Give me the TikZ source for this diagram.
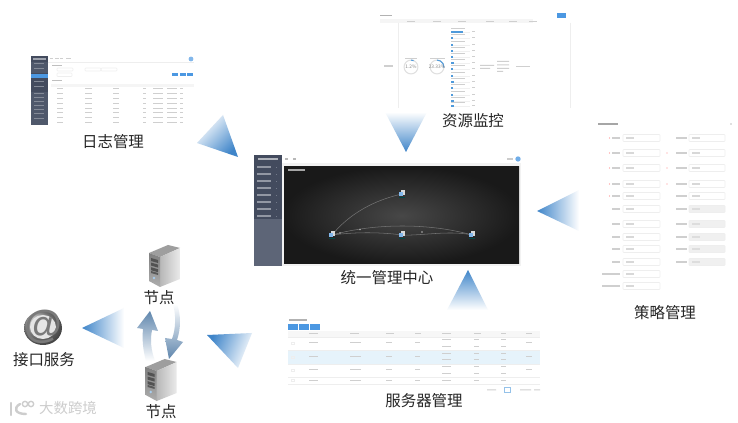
\documentclass[tikz,border=0pt]{standalone}
\usepackage{fontspec}
\setmainfont{Noto Sans CJK SC}
\newfontfamily\latinfont{Liberation Sans}
\usetikzlibrary{positioning,calc}
\definecolor{wedgeblue}{HTML}{3F85C9}
\definecolor{loopblue}{HTML}{5F86AD}
\definecolor{sidegray}{HTML}{4F586B}
\definecolor{sidedark}{HTML}{434B5E}
\definecolor{btnblue}{HTML}{4C98E2}
\definecolor{barblue}{HTML}{4F9ADB}
\definecolor{rowblue}{HTML}{E6F3FB}
\definecolor{textgray}{HTML}{CFCFCF}
\definecolor{linegray}{HTML}{EEEEEE}
\definecolor{markgray}{HTML}{CDCDCD}

\begin{document}
\begin{tikzpicture}[x=0.75pt,y=-0.75pt,
  lab/.style={font=\fontsize{11.6}{14}\selectfont,text=black!85,inner sep=0pt},
  wedge/.style={top color=wedgeblue,bottom color=white,draw=none},
  slantwedge/.style={top color=wedgeblue,middle color=wedgeblue!35,bottom color=white,draw=none},
  field/.style={draw=linegray,line width=0.4pt,rounded corners=0.6pt},
  tiny/.style={font=\fontsize{3.6}{4}\selectfont,text=black!45,inner sep=0pt}]

\useasboundingbox[fill=white] (0,0) rectangle (738,423);

% ---- big wedges ----
\shade[slantwedge,shading angle=-135] (238,157) -- (223,115) -- (197,143) -- cycle;
\shade[wedge,shading angle=180] (406,152) -- (385,112) -- (427,112) -- cycle;
\shade[wedge,shading angle=90] (537,211) -- (579,190) -- (579,231) -- cycle;
\shade[wedge] (468,270) -- (447,310) -- (488,310) -- cycle;
\shade[slantwedge,shading angle=68] (207,335) -- (252,333) -- (238,368) -- cycle;
\shade[wedge,shading angle=90] (82,328) -- (124,308) -- (124,348) -- cycle;

% ---- centre screen ----
\fill[black!5] (282,163) rectangle (521,266);
\fill[sidegray!92!white] (254,155) rectangle (282,266);
\fill[sidedark] (254,155) rectangle (282,219);
\fill[white!55!sidegray] (258,158.5) rectangle (278,160);
\foreach \yy in {167,174,181,188,195,202,209,216}{
  \fill[white!38!sidegray] (257,\yy-0.6) rectangle (271,\yy+0.6);
  \fill[white!20!sidegray] (276,\yy-0.4) rectangle (277,\yy+0.4);
}
\fill[black!28] (285,158) rectangle (288,160);
\fill[black!28] (293,158) rectangle (296,160);
\fill[black!20] (507,158.5) rectangle (513,160);
\fill[btnblue!80] (518,159) circle (2pt);
% dark canvas
\shade[inner color=black!72,outer color=black!90] (284,167) rectangle (519,264);
\fill[white!65!black] (288,169.5) rectangle (305,171);
\node[coordinate] (hostt) at (402,194) {};
\node[coordinate] (hosta) at (332,235) {};
\node[coordinate] (hostb) at (402,235) {};
\node[coordinate] (hostc) at (472,235) {};
\draw[white!45!black,line width=0.4pt] (hosta) .. controls (350,213) and (375,200) .. (hostt);
\draw[white!45!black,line width=0.4pt] (hosta) .. controls (375,223) and (430,223) .. (hostc);
\draw[white!45!black,line width=0.4pt] (hosta) .. controls (355,232) and (380,232) .. (hostb);
\draw[white!45!black,line width=0.4pt] (hostb) .. controls (420,236) and (450,230) .. (hostc);
\fill[white!70!black] (360,229.5) circle (0.7pt) (422,232) circle (0.7pt) (340,233) circle (0.7pt);
\foreach \nn in {hostt,hosta,hostb,hostc}{
  \fill[white!85!black] ($(\nn)+(-1.5,-4)$) rectangle ($(\nn)+(3,1.5)$);
  \fill[btnblue!70!white] ($(\nn)+(-3,-2)$) rectangle ($(\nn)+(0.5,2.5)$);
  \fill[teal!55!black] ($(\nn)+(-3,3.5)$) rectangle ($(\nn)+(3,4.2)$);
}
\node[lab] (centrelab) at (387,278) {统一管理中心};

% ---- log screen ----
\fill[sidegray] (31,56) rectangle (48,125);
\fill[sidedark] (31,56) rectangle (48,62);
\fill[sidedark] (31,73) rectangle (48,92);
\fill[btnblue] (31,74.5) rectangle (48,78.5);
\fill[white!45!sidegray] (33,58.5) rectangle (46,60);
\foreach \yy in {64,69,82,87,94,98,102,106,110,114,119}{
  \fill[white!30!sidegray] (34,\yy-0.5) rectangle (44,\yy+0.5);
}
\foreach \xx/\ww in {50/3,55/4,60/3,66/5}{
  \fill[textgray] (\xx,58) rectangle (\xx+\ww,59.5);
}
\fill[btnblue!70] (191,59) circle (1.8pt);
\fill[linegray] (48,62) rectangle (194,63);
\fill[black!25] (52,65.5) rectangle (62,66.5);
\foreach \xx in {57,85,101}{
  \draw[field] (\xx,68) rectangle (\xx+16,71);
}
\draw[field] (57,73) rectangle (72,76.5);
\foreach \xx in {172,180,187}{
  \fill[btnblue] (\xx,73) rectangle (\xx+6,76.5);
}
\fill[black!25] (52,80.5) rectangle (62,81.5);
\fill[black!4] (51,84) rectangle (194,87);
\foreach \yy in {89,93.8,98.6,103.4,108.2,113,117.8,122.6}{
  \foreach \xx/\ww in {57/6,85/7,113/6,143/3,153/10,167/10,180/3}{
    \fill[textgray] (\xx,\yy-0.5) rectangle (\xx+\ww,\yy+0.5);
  }
}
\node[lab] (loglab) at (113,142) {日志管理};

% ---- monitor screen ----
\fill[black!30] (380,15) rectangle (392,16);
\fill[btnblue] (557,13) rectangle (566,18);
\fill[black!4] (380,19.5) rectangle (533,23);
\draw[linegray,line width=0.3pt] (398,23) -- (398,108) (570,23) -- (570,108);
\foreach \xx in {411,437,462,490,513,533}{
  \fill[textgray] (\xx-4,20.8) rectangle (\xx+4,21.8);
}
\fill[textgray] (384,65.5) rectangle (393,67);
\node[coordinate] (gaugea) at (411,67) {};
\node[coordinate] (gaugeb) at (437,67) {};
\fill[textgray] (405,58) rectangle (417,59);
\fill[textgray] (430,58) rectangle (445,59);
\draw[black!12,line width=0.8pt] (gaugea) circle (5.2pt);
\draw[black!12,line width=0.8pt] (gaugeb) circle (5.2pt);
\draw[barblue,line width=0.8pt] ($(gaugea)+(0,-6.9)$) arc (90:68:5.2pt);
\draw[barblue,line width=0.8pt] ($(gaugeb)+(0,-6.9)$) arc (90:-5:5.2pt);
\node[tiny] at (gaugea) {1.2\%};
\node[tiny] at (gaugeb) {23.33\%};
\foreach \yy/\ww in {32/12,38/2,45/2,51/2,57/2,63/3,69/2,76/2,82/3,88/2,95/2,101/3,106/3}{
  \fill[textgray] (451,\yy-3.5) rectangle (465,\yy-2.8);
  \fill[black!6] (451,\yy-0.4) rectangle (470,\yy+0.4);
  \fill[barblue] (451,\yy-0.6) rectangle (451+\ww,\yy+0.6);
  \fill[textgray] (472,\yy-0.5) rectangle (475,\yy+0.5);
}
\fill[textgray] (480,65) rectangle (494,66) (480,68) rectangle (490,69);
\fill[textgray] (497,61) rectangle (509,62) (497,64.5) rectangle (509,65.5) (497,68) rectangle (509,69) (497,71) rectangle (503,72);
\fill[textgray] (516,66) rectangle (530,67);
\node[lab] (monlab) at (473,121) {资源监控};

% ---- policy form ----
\fill[black!35] (598,123.5) rectangle (618,125);
\fill[black!12] (730,123.5) rectangle (732,125.5);
\foreach \yy/\fa/\fb in {138/1/0,153/1/1,168/1/1,184/1/1,196/1/0,209/0/0,224/0/0,237/0/0,249/0/0,262/0/0}{
  \draw[field] (623,\yy-3.5) rectangle (660,\yy+3.5);
  \fill[textgray] (612,\yy-0.7) rectangle (620,\yy+0.7);
  \fill[textgray] (676,\yy-0.7) rectangle (687,\yy+0.7);
  \fill[textgray!80] (626,\yy-0.7) rectangle (634,\yy+0.7);
  \ifnum\fa=1 \fill[red!45] (609.5,\yy) circle (0.5pt); \fi
  \ifnum\fb=1 \fill[red!45] (667,\yy) circle (0.5pt); \fi
}
\foreach \yy in {138,153,168,184,196}{
  \draw[field] (689,\yy-3.5) rectangle (725,\yy+3.5);
  \fill[textgray!80] (692,\yy-0.7) rectangle (700,\yy+0.7);
}
\foreach \yy in {209,224,237,249,262}{
  \draw[field,fill=black!6] (689,\yy-3.5) rectangle (725,\yy+3.5);
  \fill[textgray!70] (692,\yy-0.7) rectangle (700,\yy+0.7);
}
\foreach \yy in {274,286}{
  \draw[field] (623,\yy-3.5) rectangle (660,\yy+3.5);
  \fill[textgray] (602,\yy-0.7) rectangle (620,\yy+0.7);
  \fill[textgray!80] (626,\yy-0.7) rectangle (634,\yy+0.7);
}
\node[lab] (policylab) at (665,313) {策略管理};

% ---- server table ----
\fill[black!30] (289,319.5) rectangle (307,321);
\foreach \xx in {288,299,310}{
  \fill[btnblue] (\xx,324) rectangle (\xx+10,330);
}
\fill[black!3] (288,331) rectangle (540,337);
\fill[rowblue] (288,350) rectangle (540,364);
\draw[linegray,line width=0.3pt] (288,337) -- (540,337) (288,350) -- (540,350) (288,364) -- (540,364) (288,377) -- (540,377) (288,384) -- (540,384);
\foreach \xx/\ww in {309/9,350/9,386/8,415/6,442/9,474/7,501/5,526/6}{
  \fill[textgray] (\xx,333.5) rectangle (\xx+\ww,334.5);
}
\foreach \yy in {343,357,370,380.5}{
  \foreach \xx/\ww in {309/9,350/11,386/6,415/5}{
    \fill[textgray] (\xx,\yy-0.5) rectangle (\xx+\ww,\yy+0.5);
  }
  \draw[linegray,line width=0.3pt] (291,\yy-1) rectangle (294,\yy+1);
}
\foreach \yy in {343,357,370}{
  \fill[textgray] (526,\yy-0.5) rectangle (532,\yy+0.5);
}
\foreach \yy in {340,346.5,353.5,360,367,373.5,380.5}{
  \foreach \xx/\ww in {442/9,474/5,501/5}{
    \fill[textgray] (\xx,\yy-0.5) rectangle (\xx+\ww,\yy+0.5);
  }
}
\fill[textgray] (487,389.5) rectangle (496,390.5) (520,389.5) rectangle (531,390.5) (534,389.5) rectangle (540,390.5);
\draw[barblue!60,line width=0.3pt] (504,387.5) rectangle (510,392.5);
\node[lab] (serverlab) at (424,401) {服务器管理};

% ---- node towers ----
\foreach \sx/\sy in {0/0,-3.3/114}{
  \begin{scope}[shift={(\sx,\sy)}]
    \fill[black!38] (149,253) -- (168,245) -- (180,248) -- (160,257) -- cycle;
    \shade[left color=black!28,right color=black!8] (160,257) -- (180,248) -- (180,279) -- (160,287) -- cycle;
    \shade[top color=black!50,bottom color=black!32] (149,253) -- (160,257) -- (160,287) -- (149,281) -- cycle;
    \foreach \tt in {0,1,2}{
      \fill[black!68] (151,258+\tt*4.6) -- (158,260+\tt*4.6) -- (158,263+\tt*4.6) -- (151,261+\tt*4.6) -- cycle;
    }
    \fill[black!65] (151,271) -- (158,273) -- (158,275) -- (151,273) -- cycle;
    \fill[white!50!barblue] (154,278) circle (1pt);
  \end{scope}
}
\node[lab] (nodeup) at (159,298) {节点};
\node[lab] (nodedown) at (161,412) {节点};

% ---- loop arrows between the towers ----
\shade[top color=white,middle color=loopblue!35,bottom color=loopblue] (173,304) .. controls (176,315) and (176,328) .. (172,339) -- (165,338) -- (169,359) -- (183,342) -- (177,340) .. controls (181,328) and (181,315) .. (177,304) -- cycle;
\shade[top color=loopblue,middle color=loopblue!35,bottom color=white] (150,311) -- (137,328) -- (143,329) .. controls (142,340) and (143,350) .. (146,361) -- (155,361) .. controls (151,350) and (150,340) .. (152,330) -- (158,331) -- cycle;

% ---- mail service ----
\shade[ball color=black!35] (43,328) circle[x radius=19,y radius=17];
\fill[black!10] (43,327) circle[x radius=13,y radius=12];
\node[font=\latinfont\bfseries\fontsize{29}{29}\selectfont,text=black!52,inner sep=0pt] (mailicon) at (43,327) {@};
\node[lab] (maillab) at (44,360) {接口服务};

% ---- watermark ----
\draw[markgray,line width=1.8pt,line cap=round] (11,403) -- (11,415);
\draw[markgray,line width=1.8pt,line cap=round] (20,404) .. controls (13,408) and (15,414) .. (26,414);
\draw[markgray,line width=1pt] (25,404) circle (2pt) (31,404) circle (2pt);
\node[font=\fontsize{10.8}{12}\selectfont,text=markgray,inner sep=0pt] (marklab) at (68,408) {大数跨境};

\end{tikzpicture}
\end{document}
